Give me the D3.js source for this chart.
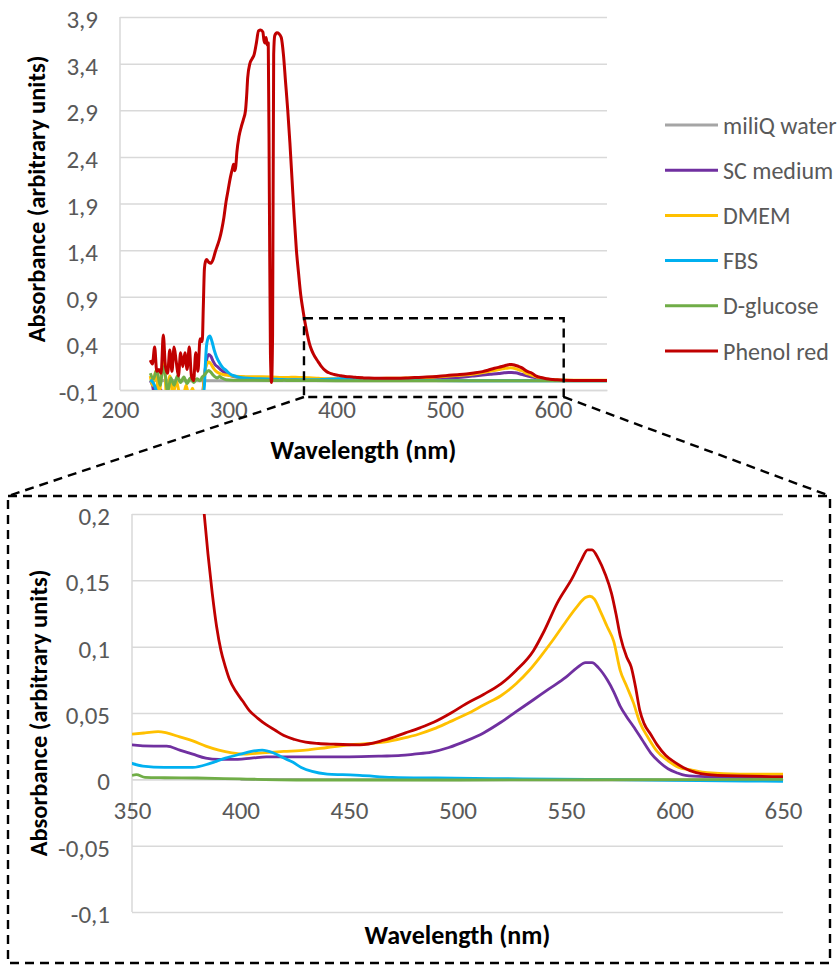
<!DOCTYPE html>
<html>
<head>
<meta charset="utf-8">
<script src="https://cdn.jsdelivr.net/npm/d3@7"></script>
<style>
  body { margin: 0; background: #fff; }
  svg text { font-family: Carlito, Calibri, Lato, sans-serif; }
</style>
</head>
<body>
<div id="chart"></div>
<script>
// Absorbance spectra, [wavelength nm, absorbance]
const miliQWater = [[228, 0.001], [260, 0.0005], [300, 0.0005], [400, 0], [500, -0.0003], [650, -0.0005]];

const scMedium = [
  [228, 0.0], [230, -0.05], [232, -0.15], [234, -0.05], [236, -0.2], [238, -0.1], [240, -0.2], [243, -0.12],
  [246, -0.2], [249, -0.1], [252, -0.2], [255, -0.15], [258, -0.2], [261, -0.12], [264, -0.2], [267, -0.12],
  [270, -0.2], [273, -0.15], [276, -0.15],
  [278, 0.05], [280, 0.22], [282, 0.28], [284, 0.26], [286, 0.21], [288, 0.17], [290, 0.15], [292, 0.13],
  [295, 0.10], [298, 0.075], [302, 0.055], [308, 0.04], [316, 0.035], [330, 0.032], [345, 0.028], [350, 0.026],
  [360, 0.025], [366, 0.025], [372, 0.022], [378, 0.019], [384, 0.016], [390, 0.015], [396, 0.015], [405, 0.016],
  [412, 0.017], [430, 0.017], [450, 0.017], [465, 0.0175], [474, 0.018], [480, 0.019], [488, 0.0205], [496, 0.024],
  [504, 0.029], [512, 0.035], [520, 0.043], [527, 0.051], [535, 0.060], [542, 0.068], [550, 0.077], [555, 0.084],
  [559, 0.088], [562, 0.088], [565, 0.084], [569, 0.075], [572, 0.066], [575, 0.055], [578, 0.047], [581, 0.040],
  [585, 0.030], [589, 0.020], [593, 0.013], [597, 0.008], [601, 0.005], [605, 0.003], [615, 0.002], [650, 0.001]
];

const dmem = [
  [228, 0.05], [230, -0.05], [233, 0.10], [236, -0.15], [239, 0.15], [241, 0.22], [243, -0.2], [246, 0.05],
  [249, -0.15], [252, 0.0], [255, -0.15], [258, -0.2], [261, -0.05], [264, -0.18], [267, -0.08], [270, -0.2],
  [273, -0.12], [276, -0.2],
  [278, 0.05], [280, 0.17], [282, 0.20], [284, 0.18], [286, 0.14], [288, 0.11], [290, 0.09], [294, 0.07],
  [298, 0.06], [304, 0.05], [312, 0.045], [325, 0.042], [340, 0.04], [350, 0.034], [356, 0.035], [362, 0.036],
  [366, 0.035], [372, 0.032], [378, 0.029], [384, 0.025], [390, 0.022], [396, 0.020], [402, 0.019], [410, 0.020],
  [420, 0.021], [430, 0.022], [440, 0.024], [450, 0.026], [460, 0.027], [466, 0.028], [475, 0.031], [482, 0.034],
  [489, 0.038], [496, 0.043], [504, 0.049], [512, 0.056], [520, 0.063], [527, 0.072], [533, 0.082], [538, 0.092],
  [544, 0.105], [550, 0.119], [555, 0.130], [559, 0.137], [561, 0.138], [563, 0.136], [566, 0.126], [569, 0.115],
  [572, 0.104], [575, 0.082], [578, 0.070], [581, 0.058], [584, 0.043], [588, 0.031], [592, 0.021], [597, 0.014],
  [602, 0.009], [608, 0.007], [615, 0.005], [630, 0.004], [650, 0.004]
];

const fbs = [
  [228, 0.01], [231, -0.03], [234, -0.12], [237, -0.2], [240, -0.15], [244, -0.2], [248, -0.18], [252, -0.2],
  [256, -0.15], [260, -0.2], [264, -0.18], [268, -0.2], [272, -0.15], [276, -0.2], [278, -0.05],
  [279, 0.2], [280, 0.38], [282, 0.47], [283, 0.48], [285, 0.42], [287, 0.33], [289, 0.26], [292, 0.19],
  [295, 0.14], [298, 0.11], [302, 0.07], [306, 0.05], [311, 0.035], [318, 0.025], [330, 0.02], [345, 0.015],
  [350, 0.012], [355, 0.010], [365, 0.009], [378, 0.009], [386, 0.012], [393, 0.016], [400, 0.019], [405, 0.021],
  [410, 0.022], [415, 0.020], [420, 0.016], [424, 0.013], [428, 0.009], [433, 0.006], [440, 0.004], [447, 0.0035],
  [455, 0.003], [470, 0.0015], [490, 0.001], [520, 0.0005], [560, 0.0], [600, -0.0008], [650, -0.0015]
];

const dGlucose = [
  [228, 0.08], [231, 0.02], [234, 0.12], [237, -0.05], [240, 0.15], [242, 0.05], [244, -0.12], [247, 0.03],
  [250, -0.05], [253, 0.05], [256, -0.02], [259, 0.04], [262, -0.03], [265, 0.03], [268, -0.02], [271, 0.02],
  [274, 0.0], [276, 0.04],
  [278, 0.06], [280, 0.09], [282, 0.11], [284, 0.09], [286, 0.06], [288, 0.04], [290, 0.03], [292, 0.045],
  [294, 0.03], [298, 0.01], [305, 0.005], [320, 0.004], [340, 0.003], [350, 0.003], [352, 0.0035], [356, 0.0015],
  [365, 0.0012], [380, 0.001], [400, 0.0003], [430, -0.0005], [500, -0.0005], [560, -0.0003], [650, 0.0]
];

const phenolRed = [
  [228, 0.22], [230, 0.18], [232, 0.36], [234, 0.10], [236, 0.12], [238, 0.08], [240, 0.49], [242, 0.15],
  [244, 0.08], [246, 0.33], [248, 0.10], [250, 0.36], [252, 0.20], [254, 0.05], [256, 0.30], [258, 0.15],
  [260, 0.30], [262, 0.12], [264, 0.36], [266, 0.05], [268, 0.00], [270, 0.30], [272, 0.10], [274, 0.45],
  [276, 0.42], [277, 0.80],
  [278, 1.20], [279, 1.28], [280, 1.30], [282, 1.27], [284, 1.26], [286, 1.30], [288, 1.38], [290, 1.45],
  [292, 1.52], [294, 1.62], [296, 1.75], [298, 1.92], [300, 2.05], [302, 2.18], [304, 2.28], [305, 2.32],
  [306, 2.25], [307, 2.30], [308, 2.45], [310, 2.62], [312, 2.72], [314, 2.80], [316, 2.90], [317, 3.05],
  [318, 3.25], [320, 3.40], [322, 3.45], [324, 3.50], [326, 3.62], [328, 3.75], [330, 3.76], [332, 3.74],
  [333, 3.65], [334, 3.62], [335, 3.68], [336, 3.60], [337, 3.62], [338, 2.0], [339, 0.3], [340, -0.02],
  [341, 0.5], [342, 3.5], [343, 3.70], [345, 3.73], [347, 3.72], [349, 3.68], [351, 3.50], [353, 3.20],
  [355, 2.90], [357, 2.55], [359, 2.15], [361, 1.75], [363, 1.40], [365, 1.15], [367, 0.92], [369, 0.76],
  [371, 0.62], [373, 0.50], [375, 0.40], [377, 0.33], [379, 0.28], [381, 0.24], [383, 0.205], [385, 0.17],
  [387, 0.14], [389, 0.115], [391, 0.097], [393, 0.085], [395, 0.075], [398, 0.066], [401, 0.059], [404, 0.052],
  [408, 0.046], [412, 0.041], [416, 0.037], [420, 0.033], [425, 0.030], [430, 0.028], [436, 0.027], [443, 0.0265],
  [455, 0.026], [466, 0.0295], [476, 0.035], [483, 0.039], [489, 0.043], [497, 0.050], [504, 0.057], [512, 0.064],
  [520, 0.072], [527, 0.082], [535, 0.097], [540, 0.112], [546, 0.133], [553, 0.152], [557, 0.165], [560, 0.173],
  [562, 0.173], [565, 0.166], [568, 0.155], [571, 0.140], [573, 0.125], [575, 0.108], [578, 0.092], [580, 0.085],
  [582, 0.070], [584, 0.052], [586, 0.042], [589, 0.034], [592, 0.026], [596, 0.018], [600, 0.013], [604, 0.009],
  [610, 0.005], [620, 0.003], [650, 0.002]
];

const seriesNames = ['miliQ water', 'SC medium', 'DMEM', 'FBS', 'D-glucose', 'Phenol red'];
const seriesValues = [miliQWater, scMedium, dmem, fbs, dGlucose, phenolRed];
const seriesColors = ['#A5A5A5', '#7030A0', '#FFC000', '#00B0F0', '#70AD47', '#C00000'];

const topXTicks = [200, 300, 400, 500, 600];
const topYTicks = [-0.1, 0.4, 0.9, 1.4, 1.9, 2.4, 2.9, 3.4, 3.9];
const zoomXTicks = [350, 400, 450, 500, 550, 600, 650];
const zoomYTicks = [-0.1, -0.05, 0, 0.05, 0.1, 0.15, 0.2];

const series = seriesNames.map((name, i) => ({ name, color: seriesColors[i], values: seriesValues[i] }));

const width = 840;
const height = 965;
const svg = d3.select('#chart').append('svg')
  .attr('width', width)
  .attr('height', height);

// Excel style numbers: comma decimal, plain hyphen
const fmt = v => String(+v.toFixed(2)).replace('.', ',');

function drawPanel(opt) {
  const x = d3.scaleLinear().domain(opt.xDomain).range([opt.left, opt.right]);
  const y = d3.scaleLinear().domain(opt.yDomain).range([opt.bottom, opt.top]);
  const g = svg.append('g');

  // horizontal gridlines + y labels
  const yAxis = g.append('g')
    .attr('transform', `translate(${opt.left},0)`)
    .call(d3.axisLeft(y).tickValues(opt.yTicks).tickSize(-(opt.right - opt.left)).tickPadding(22).tickFormat(fmt));
  yAxis.select('.domain').remove();
  yAxis.selectAll('line').attr('stroke', '#D9D9D9').attr('stroke-width', 1.5);
  yAxis.selectAll('text').attr('fill', '#595959').attr('font-size', 25).attr('dy', '0.42em');

  // left axis line
  g.append('line')
    .attr('x1', opt.left).attr('x2', opt.left)
    .attr('y1', opt.top).attr('y2', opt.bottom)
    .attr('stroke', '#D9D9D9').attr('stroke-width', 1.5);

  // x axis crossing at opt.xCross
  const xAxis = g.append('g')
    .attr('transform', `translate(0,${y(opt.xCross)})`)
    .call(d3.axisBottom(x).tickValues(opt.xTicks).tickSize(0).tickPadding(opt.xPad).tickFormat(d => d));
  xAxis.select('.domain').attr('stroke', '#D9D9D9').attr('stroke-width', 1.5);
  xAxis.selectAll('text').attr('fill', '#595959').attr('font-size', 25);

  // lines clipped to plot area
  svg.append('clipPath').attr('id', opt.id)
    .append('rect')
    .attr('x', opt.left).attr('y', opt.top)
    .attr('width', opt.right - opt.left).attr('height', opt.bottom - opt.top);

  const line = d3.line()
    .x(d => x(d[0]))
    .y(d => y(d[1]))
    .curve(d3.curveMonotoneX);

  g.append('g').attr('clip-path', `url(#${opt.id})`)
    .selectAll('path')
    .data(series)
    .join('path')
    .attr('fill', 'none')
    .attr('stroke', d => d.color)
    .attr('stroke-width', opt.lineWidth)
    .attr('stroke-linejoin', 'round')
    .attr('d', d => line(d.values.filter(p => p[0] >= opt.xDomain[0] - 5 && p[0] <= opt.xDomain[1] + 5)));

  // axis titles
  g.append('text')
    .attr('x', (opt.left + opt.right) / 2).attr('y', opt.xTitleY)
    .attr('text-anchor', 'middle').attr('font-size', 26).attr('font-weight', 'bold')
    .attr('fill', '#000')
    .text('Wavelength (nm)');

  g.append('text')
    .attr('transform', `translate(${opt.yTitleX},${opt.yTitleY}) rotate(-90)`)
    .attr('text-anchor', 'middle').attr('font-size', 24.5).attr('font-weight', 'bold')
    .attr('fill', '#000')
    .text('Absorbance (arbitrary units)');

  return { x, y };
}

const topPanel = drawPanel({
  id: 'clipTop', left: 120, right: 607, top: 17, bottom: 390,
  xDomain: [200, 650], yDomain: [-0.1, 3.9], xTicks: topXTicks, yTicks: topYTicks,
  xCross: -0.1, xPad: 10, xTitleY: 459, yTitleX: 45, yTitleY: 199, lineWidth: 3
});

drawPanel({
  id: 'clipZoom', left: 132, right: 783, top: 514, bottom: 912,
  xDomain: [350, 650], yDomain: [-0.1, 0.2], xTicks: zoomXTicks, yTicks: zoomYTicks,
  xCross: 0, xPad: 22, xTitleY: 944, yTitleX: 47, yTitleY: 713, lineWidth: 2.8
});

// Legend
const legend = svg.append('g').attr('transform', 'translate(665,125)');
const item = legend.selectAll('g')
  .data(series)
  .join('g')
  .attr('transform', (d, i) => `translate(0,${i * 45.2})`);
item.append('line')
  .attr('x1', 0).attr('x2', 53)
  .attr('stroke', d => d.color).attr('stroke-width', 3);
item.append('text')
  .attr('x', 58).attr('dy', '0.36em')
  .attr('fill', '#595959').attr('font-size', 24)
  .text(d => d.name);

// Zoom annotation: dashed box on the top panel and the magnified frame
const dash = sel => sel.attr('fill', 'none').attr('stroke', '#000')
  .attr('stroke-width', 2.4).attr('stroke-dasharray', '9,6');
const bx0 = topPanel.x(370), bx1 = topPanel.x(610);
const by0 = topPanel.y(0.67), by1 = topPanel.y(-0.175);
svg.append('rect')
  .attr('x', bx0).attr('y', by0).attr('width', bx1 - bx0).attr('height', by1 - by0)
  .call(dash);
svg.append('rect')
  .attr('x', 8).attr('y', 496).attr('width', 822).attr('height', 467)
  .call(dash);
svg.append('line').attr('x1', bx0).attr('y1', by1).attr('x2', 8).attr('y2', 496).call(dash);
svg.append('line').attr('x1', bx1).attr('y1', by1).attr('x2', 830).attr('y2', 496).call(dash);
</script>
</body>
</html>
